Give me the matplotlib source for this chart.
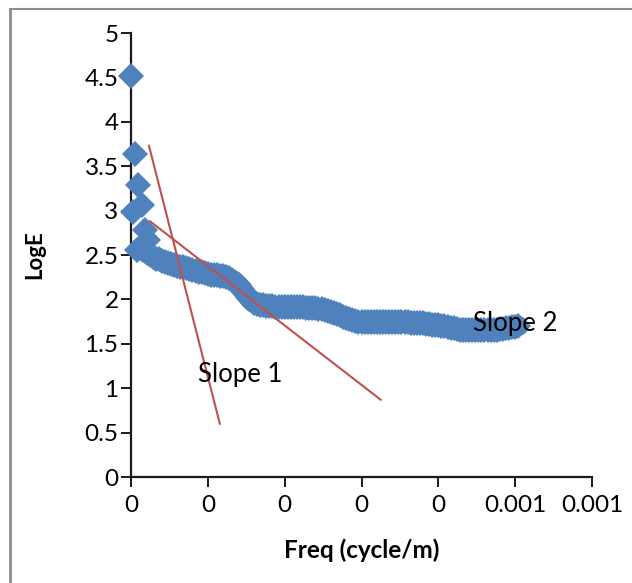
import numpy as np
import matplotlib
matplotlib.use("Agg")
import matplotlib.pyplot as plt
from matplotlib.lines import Line2D

plt.rcParams['font.family'] = ['Lato', 'DejaVu Sans']

# ---- data ----
# frequency in units of 1e-5 cycle/m
sparse_freq_e5 = [0.0, 0.52, 0.91, 1.43, 0.26, 0.78, 1.82, 2.21]
sparse_loge = [4.52, 3.64, 3.29, 3.06, 2.98, 2.56, 2.78, 2.67]

dense_freq_e5 = [
    1.2, 1.6, 2.0, 2.4, 2.8, 3.2, 3.6, 4.0, 4.4, 4.8,
    5.2, 5.6, 6.0, 6.4, 6.8, 7.2, 7.6, 8.0, 8.4, 8.8,
    9.2, 9.6, 10.0, 10.4, 10.8, 11.2, 11.6, 12.0, 12.4, 12.8,
    13.2, 13.6, 14.0, 14.4, 14.8, 15.2, 15.6, 16.0, 16.4, 16.8,
    17.2, 17.6, 18.0, 18.4, 18.8, 19.2, 19.6, 20.0, 20.4, 20.8,
    21.2, 21.6, 22.0, 22.4, 22.8, 23.2, 23.6, 24.0, 24.4, 24.8,
    25.2, 25.6, 26.0, 26.4, 26.8, 27.2, 27.6, 28.0, 28.4, 28.8,
    29.2, 29.6, 30.0, 30.4, 30.8, 31.2, 31.6, 32.0, 32.4, 32.8,
    33.2, 33.6, 34.0, 34.4, 34.8, 35.2, 35.6, 36.0, 36.4, 36.8,
    37.2, 37.6, 38.0, 38.4, 38.8, 39.2, 39.6, 40.0, 40.4, 40.8,
    41.2, 41.6, 42.0, 42.4, 42.8, 43.2, 43.6, 44.0, 44.4, 44.8,
    45.2, 45.6, 46.0, 46.4, 46.8, 47.2, 47.6, 48.0, 48.4, 48.8,
    49.2, 49.6, 50.0, 50.4]
dense_loge = [
    2.58, 2.56, 2.53, 2.51, 2.48, 2.46, 2.45, 2.43, 2.42, 2.41,
    2.40, 2.39, 2.38, 2.37, 2.36, 2.35, 2.34, 2.33, 2.32, 2.31,
    2.31, 2.30, 2.29, 2.28, 2.27, 2.27, 2.26, 2.26, 2.25, 2.24,
    2.22, 2.19, 2.16, 2.12, 2.07, 2.03, 1.99, 1.96, 1.95, 1.94,
    1.94, 1.93, 1.93, 1.93, 1.92, 1.92, 1.92, 1.92, 1.92, 1.91,
    1.91, 1.91, 1.91, 1.91, 1.90, 1.90, 1.90, 1.90, 1.89, 1.89,
    1.88, 1.87, 1.86, 1.85, 1.83, 1.82, 1.80, 1.79, 1.78, 1.77,
    1.76, 1.75, 1.75, 1.75, 1.74, 1.74, 1.74, 1.74, 1.74, 1.74,
    1.74, 1.74, 1.74, 1.74, 1.74, 1.74, 1.74, 1.74, 1.73, 1.73,
    1.73, 1.73, 1.73, 1.72, 1.72, 1.71, 1.71, 1.71, 1.70, 1.70,
    1.69, 1.68, 1.68, 1.67, 1.66, 1.66, 1.65, 1.65, 1.65, 1.65,
    1.65, 1.65, 1.65, 1.65, 1.66, 1.66, 1.66, 1.67, 1.67, 1.68,
    1.68, 1.69, 1.69, 1.70]

slope1_freq_e5 = [2.34, 11.56]
slope1_loge = [3.73, 0.60]
slope2_freq_e5 = [2.47, 32.5]
slope2_loge = [2.88, 0.87]

slope_labels = ["Slope 1", "Slope 2"]
slope_label_freq_e5 = [8.7, 44.5]
slope_label_loge = [1.15, 1.73]

xticks_e5 = [0, 10, 20, 30, 40, 50, 60]
xtick_labels = ["0", "0", "0", "0", "0", "0.001", "0.001"]
yticks = [0, 0.5, 1, 1.5, 2, 2.5, 3, 3.5, 4, 4.5, 5]
ytick_labels = ["0", "0.5", "1", "1.5", "2", "2.5", "3", "3.5", "4", "4.5", "5"]

S = 1e-5
blue = "#4F81BD"
red = "#C0504D"

fig = plt.figure(figsize=(6.32, 5.83), dpi=100)
fig.patch.set_facecolor("white")
ax = fig.add_axes([131/632, 1-477/583, (592-131)/632, (477-33)/583])

dx = np.array(dense_freq_e5)*S
# dense band: markers joined so the band looks continuous
ax.plot(dx, dense_loge, linestyle="-", lw=14.5, solid_capstyle="round",
        solid_joinstyle="round", color=blue, marker="D", markersize=13,
        markeredgewidth=0, clip_on=False, zorder=3)
ax.plot(np.array(sparse_freq_e5)*S, sparse_loge, linestyle="none", marker="D",
        markersize=13, color=blue, markeredgewidth=0, clip_on=False, zorder=3)

ax.plot(np.array(slope1_freq_e5)*S, slope1_loge, color=red, lw=1.5, zorder=4)
ax.plot(np.array(slope2_freq_e5)*S, slope2_loge, color=red, lw=1.5, zorder=4)

for t, fx, fy in zip(slope_labels, slope_label_freq_e5, slope_label_loge):
    ax.text(fx*S, fy, t, fontsize=18.5, ha="left", va="center", color="black", zorder=5)

ax.set_xlim(0, 60*S)
ax.set_ylim(0, 5)
ax.set_xticks(np.array(xticks_e5)*S)
ax.set_xticklabels(xtick_labels)
ax.set_yticks(yticks)
ax.set_yticklabels(ytick_labels)

for s in ["top", "right"]:
    ax.spines[s].set_visible(False)
for s in ["left", "bottom"]:
    ax.spines[s].set_linewidth(1.6)
    ax.spines[s].set_color("#1a1a1a")
ax.tick_params(axis="both", direction="out", length=7, width=1.4, colors="#1a1a1a",
               labelsize=17.5, labelcolor="black")
ax.tick_params(axis="x", pad=6)
ax.tick_params(axis="y", pad=2)

fig.text(35/632, 1-255/583, "LogE", rotation=90, fontsize=16, fontweight="bold",
         ha="center", va="center")
fig.text(362/632, 1-550/583, "Freq (cycle/m)", fontsize=17.5, fontweight="bold",
         ha="center", va="center")

# frame border
fig.add_artist(Line2D([10/632, 10/632], [0, 1-9/583], color="#8c8c8c", lw=2,
                      transform=fig.transFigure))
fig.add_artist(Line2D([10/632, 1], [1-9/583, 1-9/583], color="#8c8c8c", lw=1.5,
                      transform=fig.transFigure))

fig.savefig("out.png", dpi=100, facecolor="white")
